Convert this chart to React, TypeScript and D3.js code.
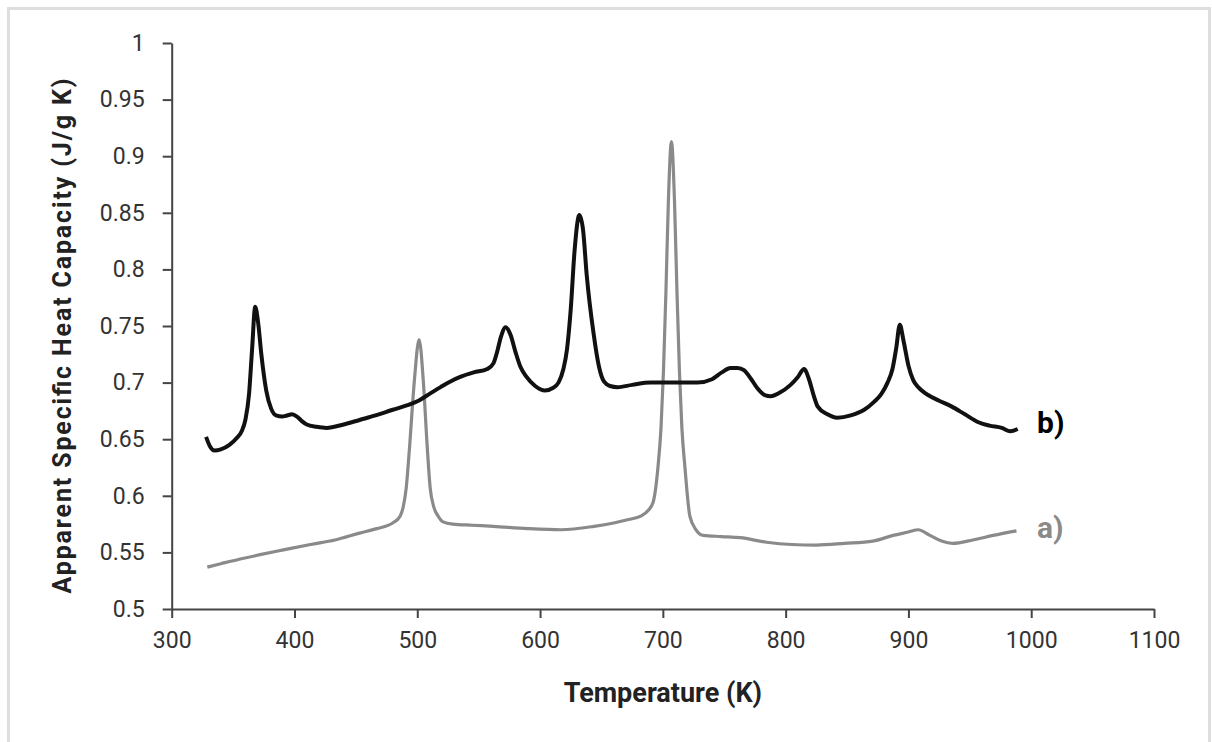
import { useRef, useEffect } from "react";
import * as d3 from "d3";

// x ticks / y ticks
const X_TICKS = [300, 400, 500, 600, 700, 800, 900, 1000, 1100];
const Y_TICKS = [0.5, 0.55, 0.6, 0.65, 0.7, 0.75, 0.8, 0.85, 0.9, 0.95, 1];

// series b) (black)
const TEMP_B = [
  328, 331, 335, 340, 347, 353, 357, 360, 363, 365.5, 368, 370.5, 373, 377, 381, 385, 390, 394, 398, 402,
  406, 410, 418, 426, 440, 453, 466, 480, 492, 501, 510, 519, 527, 535, 546, 557, 562, 565, 568, 572,
  576, 580, 584, 589, 596, 604, 610, 615, 619, 622, 625, 628, 632, 635, 638, 643.5, 648, 652, 657, 663,
  675, 690, 700, 712, 728, 740, 748, 755, 761, 766, 772, 777, 783, 788, 795, 804, 810, 815, 819, 823,
  826, 834, 842, 853, 864, 872, 878, 883, 887, 890, 893, 896, 900, 904, 908, 912, 916, 925, 935, 946,
  957, 966, 976, 983, 989,
];
const CP_B = [
  0.652, 0.644, 0.64, 0.641, 0.645, 0.651, 0.657, 0.667, 0.69, 0.73, 0.767, 0.752, 0.725, 0.693, 0.677, 0.671, 0.67, 0.671, 0.672, 0.67,
  0.666, 0.663, 0.661, 0.66, 0.663, 0.667, 0.671, 0.676, 0.68, 0.684, 0.69, 0.696, 0.701, 0.705, 0.709, 0.712, 0.717, 0.727, 0.74, 0.749,
  0.742, 0.727, 0.714, 0.705, 0.697, 0.693, 0.695, 0.7, 0.712, 0.73, 0.765, 0.815, 0.848, 0.835, 0.795, 0.744, 0.714, 0.701, 0.697, 0.696,
  0.698, 0.7, 0.7, 0.7, 0.7, 0.703, 0.709, 0.713, 0.713, 0.711, 0.703, 0.695, 0.689, 0.688, 0.691, 0.698, 0.705, 0.712, 0.703, 0.688,
  0.679, 0.672, 0.669, 0.671, 0.676, 0.683, 0.69, 0.7, 0.712, 0.73, 0.751, 0.737, 0.715, 0.702, 0.696, 0.692, 0.689, 0.684, 0.679, 0.672,
  0.665, 0.662, 0.66, 0.657, 0.659,
];

// series a) (gray)
const TEMP_A = [
  329, 340, 355, 372, 390, 413, 433, 453, 467, 480, 486, 488.5, 491, 493.5, 497.5, 501.5, 505, 508, 510.5, 513.5,
  517, 521, 529, 545, 562, 590, 617, 644, 660, 672, 682, 688, 692, 696, 698.5, 700.5, 702.5, 704.5, 707, 709.5,
  711.5, 713.5, 715.5, 718, 722, 727, 733, 748, 763, 784.5, 805, 825, 848, 871, 887.5, 900, 908, 917.5, 927, 936,
  952.5, 969, 988,
];
const CP_A = [
  0.537, 0.54, 0.544, 0.548, 0.552, 0.557, 0.561, 0.567, 0.571, 0.576, 0.582, 0.59, 0.607, 0.64, 0.7, 0.738, 0.7, 0.645, 0.607, 0.59,
  0.582, 0.577, 0.575, 0.574, 0.573, 0.571, 0.57, 0.573, 0.576, 0.579, 0.582, 0.587, 0.594, 0.625, 0.66, 0.71, 0.78, 0.86, 0.913, 0.86,
  0.78, 0.71, 0.66, 0.625, 0.582, 0.57, 0.565, 0.564, 0.563, 0.559, 0.557, 0.5565, 0.558, 0.56, 0.565, 0.568, 0.57, 0.565, 0.56, 0.558,
  0.561, 0.565, 0.569,
];

const W = 1212;
const H = 742;
const FONT = "Roboto, 'Open Sans', sans-serif";

export default function App() {
  const svgRef = useRef<SVGSVGElement>(null);

  useEffect(() => {
    if (!svgRef.current) return;
    const svg = d3.select(svgRef.current);
    svg.selectAll("*").remove();

    const left = 171.7, right = 1154, top = 43, bottom = 609;

    const x = d3.scaleLinear().domain([300, 1100]).range([left, right]);
    const y = d3.scaleLinear().domain([0.5, 1]).range([bottom, top]);

    svg.append("rect").attr("width", W).attr("height", H).attr("fill", "#fff");
    // outer frame
    svg.append("rect").attr("x", 8.5).attr("y", 8.5).attr("width", 1201).attr("height", 760)
      .attr("fill", "none").attr("stroke", "#dedede").attr("stroke-width", 3);

    // axes
    const xAxis = d3.axisBottom(x).tickValues(X_TICKS).tickSize(9).tickSizeOuter(0).tickPadding(14)
      .tickFormat((d) => String(d));
    const yAxis = d3.axisLeft(y).tickValues(Y_TICKS).tickSize(9).tickSizeOuter(0).tickPadding(18)
      .tickFormat((d) => String(+d));

    const gx = svg.append("g").attr("transform", `translate(0,${bottom})`).call(xAxis);
    const gy = svg.append("g").attr("transform", `translate(${left},0)`).call(yAxis);
    [gx, gy].forEach((g) => {
      g.select(".domain").attr("stroke", "#444").attr("stroke-width", 2);
      g.selectAll(".tick line").attr("stroke", "#444").attr("stroke-width", 2);
      g.selectAll(".tick text").attr("fill", "#333").style("font-family", FONT).style("font-size", "23px");
    });

    // curves
    const line = d3.line<[number, number]>().x((d) => x(d[0])).y((d) => y(d[1])).curve(d3.curveMonotoneX);
    const ptsA = TEMP_A.map((t, i) => [t, CP_A[i]] as [number, number]);
    const ptsB = TEMP_B.map((t, i) => [t, CP_B[i]] as [number, number]);

    svg.append("path").attr("d", line(ptsA)).attr("fill", "none").attr("stroke", "#8a8a8a")
      .attr("stroke-width", 3.2).attr("stroke-linejoin", "round");
    svg.append("path").attr("d", line(ptsB)).attr("fill", "none").attr("stroke", "#111")
      .attr("stroke-width", 4).attr("stroke-linejoin", "round");

    // series labels
    svg.append("text").attr("x", 1037).attr("y", 433).text("b)")
      .style("font-family", FONT).style("font-weight", "700").style("font-size", "30px").attr("fill", "#000");
    svg.append("text").attr("x", 1037).attr("y", 538).text("a)")
      .style("font-family", FONT).style("font-weight", "700").style("font-size", "30px").attr("fill", "#8a8a8a");

    // axis titles
    svg.append("text").attr("x", (left + right) / 2).attr("y", 702).attr("text-anchor", "middle")
      .style("font-family", FONT).style("font-weight", "700").style("font-size", "27px").attr("fill", "#222")
      .text("Temperature (K)");
    svg.append("text").attr("transform", "rotate(-90)").attr("x", -336).attr("y", 71).attr("text-anchor", "middle")
      .style("font-family", FONT).style("font-weight", "700").style("font-size", "25px").attr("fill", "#222")
      .attr("textLength", 515).attr("lengthAdjust", "spacing")
      .text("Apparent Specific Heat Capacity (J/g K)");

    return () => {
      svg.selectAll("*").remove();
    };
  }, []);

  return (
    <svg ref={svgRef} width={W} height={H} style={{ position: "absolute", left: 0, top: 0, display: "block" }} />
  );
}
